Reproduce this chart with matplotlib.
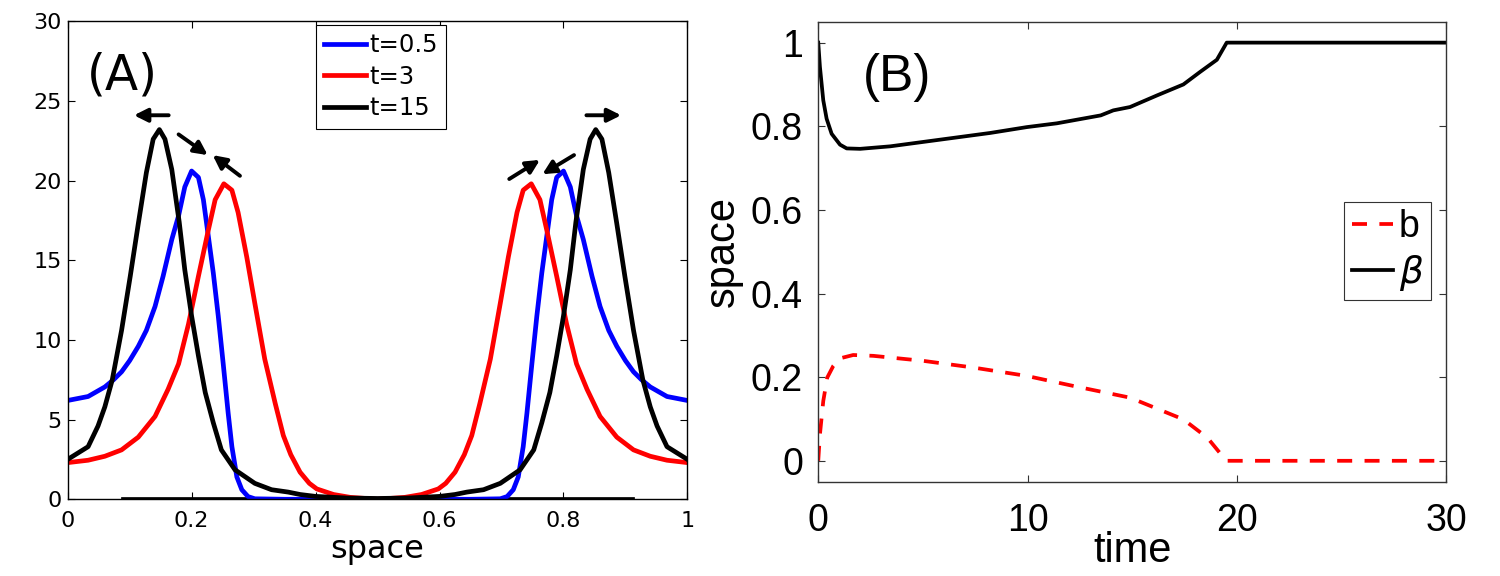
import matplotlib
matplotlib.use("Agg")
import matplotlib.pyplot as plt

# ---- panel A: profiles in space ----
blue_x = [0, 0.033, 0.06, 0.074, 0.087, 0.1, 0.114, 0.127, 0.141, 0.154, 0.168, 0.179, 0.189, 0.2,
          0.211, 0.219, 0.227, 0.235, 0.243, 0.251, 0.259, 0.265, 0.273, 0.281, 0.291, 0.302, 0.35, 0.5,
          0.65, 0.698, 0.709, 0.719, 0.727, 0.735, 0.741, 0.749, 0.757, 0.765, 0.773, 0.781, 0.789, 0.8,
          0.811, 0.821, 0.832, 0.846, 0.859, 0.873, 0.886, 0.9, 0.913, 0.926, 0.94, 0.967, 1.0]
blue_y = [6.2, 6.45, 7.05, 7.5, 8.0, 8.7, 9.6, 10.6, 12.1, 14.0, 16.3, 17.8, 19.6, 20.6,
          20.2, 18.8, 16.5, 14.2, 11.5, 8.5, 5.4, 3.3, 1.4, 0.6, 0.17, 0.03, 0.0, 0.0,
          0.0, 0.03, 0.17, 0.6, 1.4, 3.3, 5.4, 8.5, 11.5, 14.2, 16.5, 18.8, 20.2, 20.6,
          19.6, 17.8, 16.3, 14.0, 12.1, 10.6, 9.6, 8.7, 8.0, 7.5, 7.05, 6.45, 6.2]

red_x = [0, 0.033, 0.06, 0.087, 0.114, 0.141, 0.162, 0.179, 0.195, 0.211, 0.227, 0.238, 0.252,
         0.265, 0.275, 0.289, 0.302, 0.318, 0.335, 0.348, 0.36, 0.375, 0.39, 0.402, 0.429, 0.456, 0.5,
         0.544, 0.571, 0.598, 0.61, 0.625, 0.64, 0.652, 0.665, 0.682, 0.698, 0.711, 0.725, 0.735,
         0.748, 0.762, 0.773, 0.789, 0.805, 0.821, 0.838, 0.859, 0.886, 0.913, 0.94, 0.967, 1.0]
red_y = [2.3, 2.45, 2.7, 3.1, 3.9, 5.2, 6.9, 8.5, 11.0, 14.0, 16.9, 18.8, 19.8,
         19.4, 18.0, 15.2, 12.3, 8.8, 6.0, 4.0, 2.8, 1.7, 1.0, 0.65, 0.3, 0.12, 0.0,
         0.12, 0.3, 0.65, 1.0, 1.7, 2.8, 4.0, 6.0, 8.8, 12.3, 15.2, 18.0, 19.4,
         19.8, 18.8, 16.9, 14.0, 11.0, 8.5, 6.9, 5.2, 3.9, 3.1, 2.7, 2.45, 2.3]

black_x = [0, 0.033, 0.049, 0.06, 0.072, 0.087, 0.101, 0.114, 0.127, 0.138, 0.148, 0.157, 0.168,
           0.18, 0.189, 0.2, 0.211, 0.222, 0.235, 0.248, 0.27, 0.302, 0.329, 0.356, 0.375, 0.4, 0.43,
           0.45, 0.5,
           0.55, 0.57, 0.6, 0.625, 0.644, 0.671, 0.698, 0.73, 0.752, 0.765, 0.778, 0.789, 0.8, 0.811,
           0.82, 0.832, 0.843, 0.852, 0.862, 0.873, 0.886, 0.899, 0.913, 0.928, 0.94, 0.951, 0.967, 1.0]
black_y = [2.5, 3.3, 4.6, 5.8, 7.5, 10.6, 14.0, 17.3, 20.5, 22.6, 23.2, 22.6, 20.7,
           17.4, 14.4, 11.5, 9.0, 6.7, 4.8, 3.1, 1.85, 1.0, 0.6, 0.45, 0.3, 0.18, 0.12,
           0.08, 0.05,
           0.08, 0.12, 0.18, 0.3, 0.45, 0.6, 1.0, 1.85, 3.1, 4.8, 6.7, 9.0, 11.5, 14.4,
           17.4, 20.7, 22.6, 23.2, 22.6, 20.5, 17.3, 14.0, 10.6, 7.5, 5.8, 4.6, 3.3, 2.5]

base_x = [0.09, 0.91]
base_y = [0, 0]

labels_a = ["t=0.5", "t=3", "t=15"]

# arrows: (tail, head) in data coords
arrows_a = [((0.163, 24.1), (0.107, 24.1)),
            ((0.179, 22.9), (0.226, 21.6)),
            ((0.278, 20.3), (0.234, 21.6)),
            ((0.7125, 20.1), (0.762, 21.3)),
            ((0.817, 21.6), (0.766, 20.4)),
            ((0.837, 24.1), (0.893, 24.1))]

# ---- panel B: b and beta over time ----
beta_t = [0, 0.08, 0.24, 0.4, 0.64, 1.04, 1.36, 2.0, 3.44, 5.83, 8.22, 9.97, 11.4, 13.5, 14.1,
          14.9, 16.2, 17.45, 18.25, 19.05, 19.52, 30]
beta_v = [1.0, 0.942, 0.862, 0.818, 0.782, 0.756, 0.747, 0.746, 0.752, 0.768, 0.784, 0.798,
          0.807, 0.826, 0.838, 0.846, 0.874, 0.900, 0.930, 0.959, 1.0, 1.0]

b_t = [0, 0.08, 0.24, 0.43, 0.72, 1.04, 1.67, 2.63, 5.02, 7.41, 9.96, 12.19, 14.9, 17.45, 18.6,
       19.5, 30]
b_v = [0, 0.063, 0.143, 0.199, 0.227, 0.245, 0.253, 0.251, 0.239, 0.223, 0.203, 0.179, 0.151,
       0.099, 0.055, 0.0, 0.0]


fig = plt.figure(figsize=(15, 5.76), dpi=100)

# panel A
axa = fig.add_axes([0.0451, 0.1332, 0.4132, 0.8299])
axa.plot(base_x, base_y, color="k", lw=3.4)
la1, = axa.plot(blue_x, blue_y, color="#0000ff", lw=3.4)
la2, = axa.plot(red_x, red_y, color="#ff0000", lw=3.4)
la3, = axa.plot(black_x, black_y, color="k", lw=3.4)
for tail, head in arrows_a:
    axa.annotate("", xy=head, xytext=tail,
                 arrowprops=dict(arrowstyle="-|>", color="k", lw=2.8,
                                 mutation_scale=20, shrinkA=0, shrinkB=0))
axa.text(0.031, 26.6, "(A)", fontsize=35, ha="left", va="center", family="DejaVu Sans")
axa.set_xlim(0, 1)
axa.set_ylim(0, 30)
axa.set_xticks([0, 0.2, 0.4, 0.6, 0.8, 1])
axa.set_xticklabels(["0", "0.2", "0.4", "0.6", "0.8", "1"])
axa.set_yticks([0, 5, 10, 15, 20, 25, 30])
axa.tick_params(direction="in", top=True, right=True, length=5, width=0.8, labelsize=16)
axa.tick_params(axis="x", pad=8.5)
axa.tick_params(axis="y", pad=4.3)
axa.set_xlabel("space", fontsize=23)
axa.xaxis.set_label_coords(0.5, -0.1234)
axa.xaxis.label.set_verticalalignment("baseline")
leg = axa.legend([la1, la2, la3], labels_a, loc="upper left", bbox_to_anchor=(0.4006, 0.9923),
                 borderaxespad=0, fontsize=17.5, fancybox=False, framealpha=1, edgecolor="k",
                 handlelength=1.7, handletextpad=0.15, labelspacing=0.3, borderpad=0.35)
leg.get_frame().set_linewidth(0.8)
for sp in axa.spines.values():
    sp.set_linewidth(1.0)

# panel B
fb = "Liberation Sans"
axb = fig.add_axes([0.5455, 0.1637, 0.4185, 0.7986])
lb1, = axb.plot(b_t, b_v, color="#ff0000", lw=2.7, dashes=(4.0, 3.3))
lb2, = axb.plot(beta_t, beta_v, color="k", lw=2.7)
axb.text(2.14, 0.917, "(B)", fontsize=37, ha="left", va="center", family=fb)
axb.set_xlim(0, 30)
axb.set_ylim(-0.05, 1.05)
axb.set_xticks([0, 10, 20, 30])
axb.set_yticks([0, 0.2, 0.4, 0.6, 0.8, 1])
axb.set_yticklabels(["0", "0.2", "0.4", "0.6", "0.8", "1"])
axb.tick_params(direction="in", top=True, right=True, length=5, width=0.8, labelsize=27,
                color="#333333")
axb.tick_params(axis="x", pad=15.5)
axb.tick_params(axis="y", pad=11)
for lab in axb.get_xticklabels() + axb.get_yticklabels():
    lab.set_family(fb)
axb.set_xlabel("time", fontsize=30, family=fb)
axb.xaxis.set_label_coords(0.5, -0.174)
axb.xaxis.label.set_verticalalignment("baseline")
axb.set_ylabel("space", fontsize=30, family=fb)
axb.yaxis.set_label_coords(-0.1195, 0.5)
legb = axb.legend([lb1, lb2], ["b", r"$\beta$"], loc="upper left", bbox_to_anchor=(0.838, 0.6087),
                  borderaxespad=0, prop={"family": fb, "size": 27}, fancybox=False, framealpha=1,
                  edgecolor="#333333", handlelength=1.1, handletextpad=0.15, labelspacing=0.2,
                  borderpad=0.2)
legb.get_frame().set_linewidth(0.8)
for sp in axb.spines.values():
    sp.set_linewidth(1.0)
    sp.set_color("#333333")

fig.savefig("out.png", dpi=100)
